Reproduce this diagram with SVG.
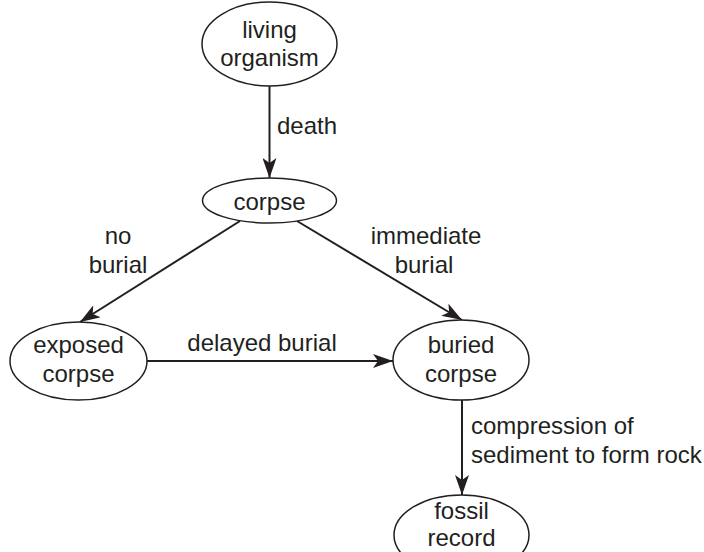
<svg xmlns="http://www.w3.org/2000/svg" width="704" height="552" viewBox="0 0 704 552">
<defs>
<style>
.node ellipse{fill:#fff;stroke:#231f20;stroke-width:1.5}
text{font-family:"Liberation Sans",Arial,sans-serif;font-size:24px;fill:#231f20}
.c{text-anchor:middle}
.edge{stroke:#231f20;stroke-width:2;fill:none;marker-end:url(#ah)}
</style>
<marker id="ah" markerUnits="userSpaceOnUse" markerWidth="22" markerHeight="14" refX="20" refY="7" orient="auto">
<path d="M0,0 L20,7 L0,14 L5,7 Z" fill="#231f20"/>
</marker>
</defs>
<g id="connectors">
<line class="edge" x1="269.5" y1="86" x2="269.5" y2="178"/>
<line class="edge" x1="240" y1="221" x2="80" y2="322"/>
<line class="edge" x1="297" y1="221" x2="462" y2="320"/>
<line class="edge" x1="147" y1="361" x2="393" y2="361"/>
<line class="edge" x1="462" y1="400" x2="462" y2="495"/>
<text x="277" y="134">death</text>
<text class="c" x="118" y="244">no</text>
<text class="c" x="118" y="273">burial</text>
<text class="c" x="426" y="244">immediate</text>
<text class="c" x="424" y="273">burial</text>
<text class="c" x="262" y="351">delayed burial</text>
<text x="471" y="434">compression of</text>
<text x="471" y="463">sediment to form rock</text>
</g>
<g id="living" class="node">
<ellipse cx="269.5" cy="44" rx="67.5" ry="42"/>
<text class="c" x="269.5" y="38">living</text>
<text class="c" x="269.5" y="66">organism</text>
</g>
<g id="corpse" class="node">
<ellipse cx="269.5" cy="200.5" rx="67" ry="22.5"/>
<text class="c" x="269.5" y="210">corpse</text>
</g>
<g id="exposed" class="node">
<ellipse cx="78.5" cy="361" rx="68.5" ry="39"/>
<text class="c" x="78.5" y="353">exposed</text>
<text class="c" x="78.5" y="382">corpse</text>
</g>
<g id="buried" class="node">
<ellipse cx="461" cy="360" rx="68" ry="40"/>
<text class="c" x="461" y="353">buried</text>
<text class="c" x="461" y="382">corpse</text>
</g>
<g id="fossil" class="node">
<ellipse cx="461.5" cy="535" rx="67.5" ry="40"/>
<text class="c" x="461.5" y="519">fossil</text>
<text class="c" x="461.5" y="546">record</text>
</g>
</svg>
